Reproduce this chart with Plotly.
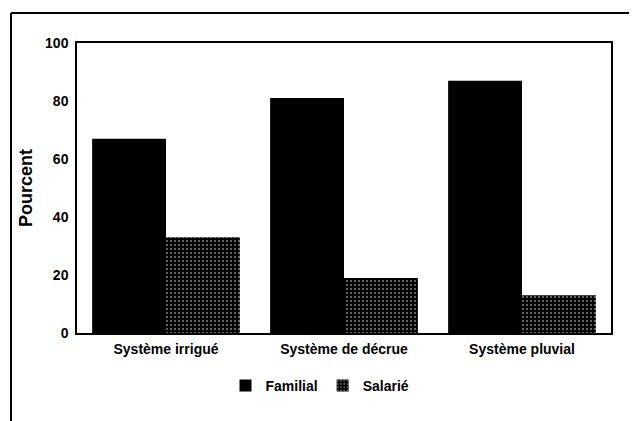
import plotly.graph_objects as go

categories = ["Système irrigué", "Système de décrue", "Système pluvial"]
familial = [67, 81, 87]
salarie = [33, 19, 13]
yticks = [0, 20, 40, 60, 80, 100]

font = "Liberation Sans, Arial, sans-serif"

fig = go.Figure()
fig.add_bar(name="Familial", x=categories, y=familial,
            marker=dict(color="black", line=dict(width=0)))
fig.add_bar(name="Salarié", x=categories, y=salarie,
            marker=dict(color="black", line=dict(width=0),
                        pattern=dict(shape=".", fgcolor="white", bgcolor="black",
                                     size=4, solidity=0.2)))

# page body has an 8px margin: figure is sized to fill the rest of the window
W, H = 629, 413
L, R, T, B = 69, 26, 35, 88
pw, ph = W - L - R, H - T - B

fig.update_layout(
    width=W, height=H,
    margin=dict(l=L, r=R, t=T, b=B),
    paper_bgcolor="white", plot_bgcolor="white",
    barmode="group", bargap=0.17, bargroupgap=0,
    font=dict(family=font, size=14, color="black"),
    showlegend=True,
    legend=dict(orientation="h", x=(312 - L) / pw, xanchor="center",
                y=(T + ph - 378) / ph, yanchor="middle",
                font=dict(size=14, family=font, weight="bold"),
                tracegroupgap=0, itemwidth=30),
    shapes=[
        dict(type="line", xref="paper", yref="paper",
             x0=(3 - L) / pw, x1=(W - L) / pw, y0=1 + (T - 5) / ph, y1=1 + (T - 5) / ph,
             line=dict(color="black", width=2)),
        dict(type="line", xref="paper", yref="paper",
             x0=(3 - L) / pw, x1=(3 - L) / pw, y0=1 + (T - 5) / ph, y1=-B / ph,
             line=dict(color="black", width=2)),
    ],
)
fig.update_xaxes(showline=True, linecolor="black", linewidth=1.5, mirror=True,
                 ticks="", ticklabelstandoff=2,
                 tickfont=dict(size=14, family=font, weight="bold"))
fig.update_yaxes(range=[0, 100], tickvals=yticks, showgrid=False, zeroline=False,
                 showline=True, linecolor="black", linewidth=1.5, mirror=True,
                 ticks="", ticklabelstandoff=4,
                 tickfont=dict(size=14, family=font, weight="bold"),
                 title=dict(text="<b>Pourcent</b>", font=dict(size=18, family=font),
                            standoff=8))

fig.write_html("out.html")
